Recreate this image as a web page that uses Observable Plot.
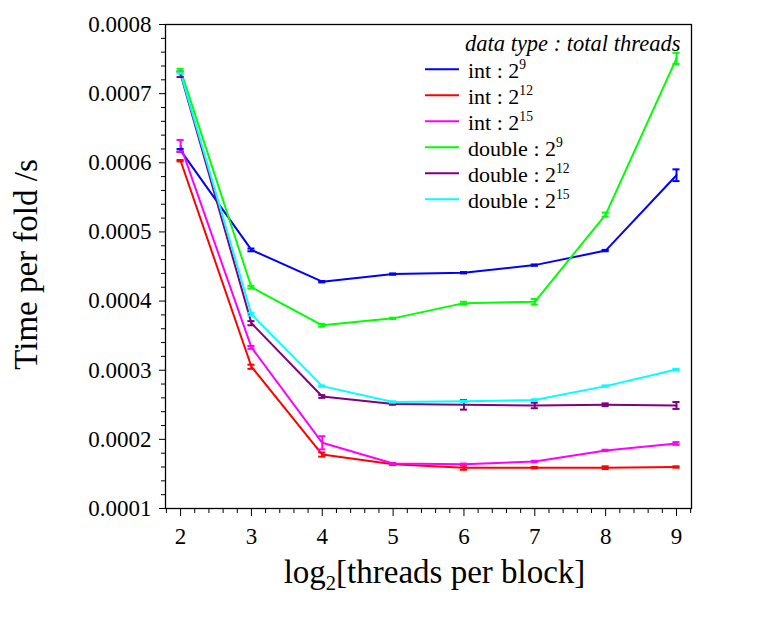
<!DOCTYPE html>
<html>
<head>
<meta charset="utf-8">
<script src="https://cdn.jsdelivr.net/npm/d3@7"></script>
<script src="https://cdn.jsdelivr.net/npm/@observablehq/plot@0.6"></script>
<style>
  html, body { margin: 0; padding: 0; background: #fff; }
  #chart { width: 762px; height: 620px; }
</style>
</head>
<body>
<div id="chart"></div>
<script>
// ---- data ----
const threadsLog2 = [2, 3, 4, 5, 6, 7, 8, 9];

const seriesNames = ["int : 2^9", "int : 2^12", "int : 2^15", "double : 2^9", "double : 2^12", "double : 2^15"];
const seriesColors = ["#0000ff", "#ff0000", "#ff00ff", "#00ff00", "#800080", "#00ffff"];

const int512       = [0.000618, 0.000474, 0.000428, 0.000439, 0.000441, 0.000452, 0.000473, 0.000582];
const int512Err    = [0.000002, 0.000002, 0.000001, 0.000001, 0.000001, 0.000001, 0.000001, 0.0000085];
const int4096      = [0.000603, 0.000305, 0.000178, 0.000164, 0.000159, 0.000159, 0.000159, 0.000160];
const int4096Err   = [0.000001, 0.000003, 0.000003, 0.000001, 0.000003, 0.000001, 0.000002, 0.000001];
const int32768     = [0.0006245, 0.000333, 0.000195, 0.000165, 0.000164, 0.000168, 0.000184, 0.000194];
const int32768Err  = [0.0000085, 0.000002, 0.0000095, 0.000001, 0.000001, 0.000001, 0.000001, 0.000002];
const dbl512       = [0.000734, 0.000420, 0.000365, 0.000375, 0.000397, 0.000399, 0.000525, 0.000751];
const dbl512Err    = [0.000002, 0.000002, 0.000002, 0.000001, 0.000002, 0.000004, 0.000003, 0.000008];
const dbl4096      = [0.000728, 0.000368, 0.000262, 0.000251, 0.000250, 0.000249, 0.000250, 0.000249];
const dbl4096Err   = [0.000004, 0.000003, 0.000002, 0.000001, 0.000007, 0.000004, 0.000002, 0.000005];
const dbl32768     = [0.000730, 0.000381, 0.000277, 0.000254, 0.000255, 0.000257, 0.000277, 0.000301];
const dbl32768Err  = [0.000001, 0.000002, 0.000001, 0.000001, 0.000001, 0.000001, 0.000001, 0.000001];

const yTicks = [0.0001, 0.0002, 0.0003, 0.0004, 0.0005, 0.0006, 0.0007, 0.0008];
const xTicks = [2, 3, 4, 5, 6, 7, 8, 9];

const legendTitle = "data type : total threads";
const xTitle = "log_2[threads per block]";
const yTitle = "Time per fold /s";

// ---- table ----
const seriesValues = [int512, int4096, int32768, dbl512, dbl4096, dbl32768];
const seriesErrs = [int512Err, int4096Err, int32768Err, dbl512Err, dbl4096Err, dbl32768Err];
const rows = [];
seriesNames.forEach((name, s) => {
  threadsLog2.forEach((x, i) => {
    rows.push({series: name, x, y: seriesValues[s][i], err: seriesErrs[s][i]});
  });
});

const xMinor = d3.range(18, 93, 2).map(v => v / 10).filter(v => !xTicks.includes(v));
const yMinor = d3.range(10, 81, 2).map(v => v / 100000).filter(v => !yTicks.some(t => Math.abs(t - v) < 1e-9));

const FONT = "'Liberation Serif', 'Times New Roman', serif";
const capHalf = 0.05;

const plot = Plot.plot({
  width: 762,
  height: 620,
  marginLeft: 165,
  marginRight: 71,
  marginTop: 24,
  marginBottom: 112,
  style: {fontFamily: FONT, fontSize: "23px", background: "white", color: "black", overflow: "visible"},
  x: {domain: [1.787, 9.212], label: null},
  y: {domain: [0.0001, 0.0008], label: null},
  color: {domain: seriesNames, range: seriesColors},
  marks: [
    Plot.axisY({ticks: yTicks, tickSize: 6, tickPadding: 8, tickFormat: d => d.toFixed(4), fontSize: 23, fontFamily: FONT, label: null}),
    Plot.axisY({ticks: yMinor, tickSize: 4, tickFormat: () => "", label: null}),
    Plot.axisX({ticks: xTicks, tickSize: 8, tickPadding: 11, tickFormat: d => String(d), fontSize: 23, fontFamily: FONT, label: null}),
    Plot.axisX({ticks: xMinor, tickSize: 5, tickFormat: () => "", label: null}),
    Plot.line(rows, {x: "x", y: "y", z: "series", stroke: "series", strokeWidth: 2}),
    Plot.ruleX(rows, {x: "x", y1: d => d.y - d.err, y2: d => d.y + d.err, stroke: "series", strokeWidth: 2}),
    Plot.ruleY(rows, {y: d => d.y + d.err, x1: d => d.x - capHalf, x2: d => d.x + capHalf, stroke: "series", strokeWidth: 2}),
    Plot.ruleY(rows, {y: d => d.y - d.err, x1: d => d.x - capHalf, x2: d => d.x + capHalf, stroke: "series", strokeWidth: 2}),
    Plot.frame({stroke: "black", strokeWidth: 1.3}),
    Plot.text([xTitle], {text: d => d, frameAnchor: "bottom", dy: 74, dx: 6, lineAnchor: "bottom", textAnchor: "middle", fontSize: 33, fill: "black"}),
    Plot.text([yTitle], {text: d => d, frameAnchor: "left", rotate: -90, dx: -129, dy: -2, lineAnchor: "bottom", textAnchor: "middle", fontSize: 33, fill: "black"})
  ]
});

document.getElementById("chart").appendChild(plot);

const NS = "http://www.w3.org/2000/svg";
function richify(el, fs) {
  const s = el.textContent;
  if (!/[\^_]\d/.test(s)) return;
  el.textContent = "";
  const parts = s.split(/([\^_]\d+)/).filter(p => p);
  let shift = 0;
  for (const p of parts) {
    const t = document.createElementNS(NS, "tspan");
    if (p[0] === "^" || p[0] === "_") {
      const target = p[0] === "^" ? -0.42 * fs : 0.22 * fs;
      t.setAttribute("dy", target - shift);
      shift = target;
      t.setAttribute("font-size", (0.62 * fs).toFixed(1));
      t.textContent = p.slice(1);
    } else {
      if (shift !== 0) { t.setAttribute("dy", -shift); shift = 0; }
      t.textContent = p;
    }
    el.appendChild(t);
  }
}

// titles with sub/superscripts
plot.querySelectorAll("text").forEach(el => {
  if (el.textContent === xTitle) richify(el, 33);
});

// ---- legend ----
const svg = d3.select(plot);
const leg = svg.append("g")
  .attr("font-family", FONT)
  .attr("font-size", 22)
  .attr("text-anchor", "start")
  .attr("fill", "black");
leg.append("text")
  .attr("x", 465).attr("y", 51)
  .attr("font-style", "italic")
  .attr("font-size", 22.5)
  .text(legendTitle);
seriesNames.forEach((name, i) => {
  const yLine = 69.3 + i * 26;
  leg.append("line")
    .attr("x1", 425).attr("x2", 459)
    .attr("y1", yLine).attr("y2", yLine)
    .attr("stroke", seriesColors[i]).attr("stroke-width", 2);
  const t = leg.append("text")
    .attr("x", 468).attr("y", yLine + 8.5)
    .text(name);
  richify(t.node(), 22);
});
</script>
</body>
</html>
